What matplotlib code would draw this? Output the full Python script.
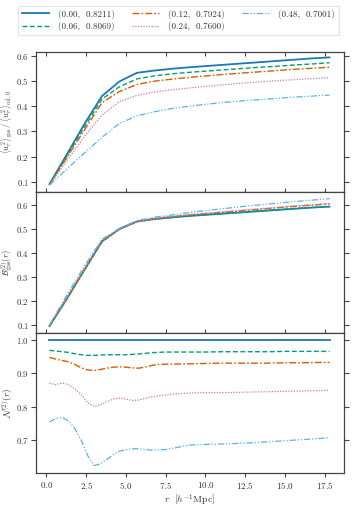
import numpy as np
import matplotlib
matplotlib.use("Agg")
import matplotlib.pyplot as plt

plt.rcParams['font.family'] = 'serif'
plt.rcParams['font.serif'] = ['cmr10']
plt.rcParams['mathtext.fontset'] = 'cm'
plt.rcParams['axes.formatter.use_mathtext'] = True
plt.rcParams['axes.unicode_minus'] = False

# ---------------- data ----------------
labels = ["(0.00,  0.8211)", "(0.06,  0.8069)", "(0.12,  0.7924)",
          "(0.24,  0.7600)", "(0.48,  0.7001)"]
colors = ["#1f78b4", "#029E73", "#D55E00", "#CC78BC", "#56B4E9"]

r_coarse = [0.2, 1.3, 2.4, 3.5, 4.6, 5.7, 6.8, 7.9, 9.0, 10.1, 11.2,
            12.3, 13.4, 14.5, 15.6, 16.7, 17.8]

# top panel: <u_r^2>_gas / <u_r^2>_col,0
ratio_000 = [0.092, 0.21, 0.33, 0.44, 0.498, 0.532, 0.541, 0.548, 0.554, 0.559,
             0.564, 0.569, 0.574, 0.579, 0.584, 0.589, 0.593]
ratio_006 = [0.090, 0.203, 0.318, 0.428, 0.477, 0.508, 0.520, 0.528, 0.534, 0.539,
             0.544, 0.549, 0.554, 0.558, 0.563, 0.567, 0.572]
ratio_012 = [0.089, 0.198, 0.306, 0.414, 0.458, 0.486, 0.499, 0.507, 0.514, 0.520,
             0.526, 0.531, 0.536, 0.541, 0.546, 0.550, 0.554]
ratio_024 = [0.088, 0.185, 0.280, 0.365, 0.418, 0.443, 0.456, 0.465, 0.472, 0.479,
             0.485, 0.491, 0.496, 0.501, 0.505, 0.509, 0.513]
ratio_048 = [0.088, 0.152, 0.215, 0.277, 0.332, 0.362, 0.378, 0.391, 0.400, 0.408,
             0.415, 0.421, 0.426, 0.431, 0.436, 0.440, 0.444]

# middle panel: B_gas^(2)(r)
B_000 = [0.095, 0.21, 0.33, 0.448, 0.500, 0.531, 0.541, 0.548, 0.554, 0.559,
         0.564, 0.569, 0.574, 0.579, 0.584, 0.589, 0.593]
B_006 = [0.094, 0.208, 0.328, 0.446, 0.499, 0.530, 0.541, 0.548, 0.555, 0.560,
         0.565, 0.570, 0.575, 0.580, 0.585, 0.589, 0.593]
B_012 = [0.095, 0.212, 0.332, 0.450, 0.500, 0.531, 0.543, 0.551, 0.558, 0.564,
         0.570, 0.576, 0.582, 0.588, 0.594, 0.599, 0.604]
B_024 = [0.097, 0.215, 0.335, 0.452, 0.500, 0.532, 0.544, 0.552, 0.560, 0.566,
         0.572, 0.578, 0.584, 0.590, 0.596, 0.601, 0.606]
B_048 = [0.100, 0.225, 0.345, 0.457, 0.502, 0.535, 0.549, 0.558, 0.568, 0.577,
         0.585, 0.593, 0.600, 0.607, 0.614, 0.620, 0.626]

# bottom panel: N^(2)(r)
r_fine = [0.2, 0.6, 1.0, 1.4, 1.8, 2.2, 2.6, 3.0, 3.4, 3.8, 4.2, 4.6, 5.0, 5.4,
          5.8, 6.2, 6.6, 7.0, 7.5, 8.0, 9.0, 10.0, 11.0, 12.0, 13.0, 14.0,
          15.0, 16.0, 17.0, 17.8]
N_000 = [1.0] * 30
N_006 = [0.968, 0.966, 0.964, 0.962, 0.958, 0.955, 0.953, 0.953, 0.954, 0.955,
         0.955, 0.955, 0.955, 0.956, 0.957, 0.959, 0.961, 0.962, 0.963, 0.963,
         0.963, 0.963, 0.964, 0.964, 0.964, 0.964, 0.965, 0.965, 0.965, 0.965]
N_012 = [0.947, 0.942, 0.938, 0.934, 0.926, 0.916, 0.910, 0.908, 0.911, 0.915,
         0.918, 0.919, 0.918, 0.916, 0.915, 0.918, 0.923, 0.926, 0.927, 0.927,
         0.928, 0.929, 0.930, 0.930, 0.930, 0.930, 0.931, 0.931, 0.932, 0.932]
N_024 = [0.870, 0.866, 0.871, 0.866, 0.853, 0.836, 0.812, 0.801, 0.806, 0.815,
         0.823, 0.826, 0.823, 0.819, 0.820, 0.825, 0.829, 0.832, 0.835, 0.838,
         0.841, 0.842, 0.842, 0.843, 0.844, 0.845, 0.846, 0.847, 0.848, 0.849]
N_048 = [0.755, 0.765, 0.768, 0.758, 0.735, 0.700, 0.655, 0.625, 0.630, 0.643,
         0.657, 0.668, 0.672, 0.675, 0.675, 0.673, 0.671, 0.671, 0.673, 0.677,
         0.686, 0.688, 0.689, 0.691, 0.693, 0.696, 0.699, 0.702, 0.705, 0.708]

ratios = [ratio_000, ratio_006, ratio_012, ratio_024, ratio_048]
Bs = [B_000, B_006, B_012, B_024, B_048]
Ns = [N_000, N_006, N_012, N_024, N_048]

styles = ['-', (0, (3.5, 1.8)), (0, (5, 1.5, 1.2, 1.5)), (0, (1, 1.2)),
          (0, (5, 1.5, 1, 1.5, 1, 1.5))]
widths = [1.3, 1.0, 1.0, 0.9, 0.9]

# ---------------- figure ----------------
fig = plt.figure(figsize=(3.52, 5.08), dpi=100)
gs = fig.add_gridspec(3, 1, left=0.102, right=0.977, top=0.898, bottom=0.069,
                      hspace=0.0)
ax1 = fig.add_subplot(gs[0])
ax2 = fig.add_subplot(gs[1], sharex=ax1)
ax3 = fig.add_subplot(gs[2], sharex=ax1)

handles = []
for i in range(5):
    h, = ax1.plot(r_coarse, ratios[i], color=colors[i], ls=styles[i], lw=widths[i],
                  label=labels[i])
    handles.append(h)
    ax2.plot(r_coarse, Bs[i], color=colors[i], ls=styles[i], lw=widths[i])
    ax3.plot(r_fine, Ns[i], color=colors[i], ls=styles[i], lw=widths[i])

ax1.set_xlim(-0.65, 18.7)
ax1.set_ylim(0.06, 0.615)
ax2.set_ylim(0.068, 0.653)
ax3.set_ylim(0.603, 1.021)

ax1.set_yticks([0.1, 0.2, 0.3, 0.4, 0.5, 0.6])
ax2.set_yticks([0.1, 0.2, 0.3, 0.4, 0.5, 0.6])
ax3.set_yticks([0.7, 0.8, 0.9, 1.0])
ax3.set_xticks([0.0, 2.5, 5.0, 7.5, 10.0, 12.5, 15.0, 17.5])

spine_col = '#444444'
lab_col = '#333333'
for ax in (ax1, ax2, ax3):
    for s in ax.spines.values():
        s.set_color(spine_col)
        s.set_linewidth(0.9)
    ax.tick_params(axis='y', which='both', direction='out', left=True, right=True,
                   length=3.5, width=0.8, color=spine_col, labelsize=6.3,
                   labelcolor=lab_col, pad=1.5)

ax1.tick_params(axis='x', direction='in', top=True, bottom=True, labelbottom=False,
                length=3, width=0.8, color=spine_col)
ax2.tick_params(axis='x', direction='in', top=False, bottom=True, labelbottom=False,
                length=3, width=0.8, color=spine_col)
ax3.tick_params(axis='x', direction='out', top=False, bottom=True, labelbottom=True,
                length=3, width=0.8, color=spine_col, labelsize=6.5,
                labelcolor=lab_col, pad=2)

ax1.set_ylabel(r"$\langle u_r^2\rangle_{\rm gas}\,/\,\langle u_r^2\rangle_{\rm col,0}$",
               fontsize=6.0, color=lab_col)
ax2.set_ylabel(r"$\mathcal{B}^{(2)}_{\rm gas}(r)$", fontsize=6.2, color=lab_col)
ax3.set_ylabel(r"$\mathcal{N}^{(2)}(r)$", fontsize=6.8, color=lab_col)
for ax in (ax1, ax2, ax3):
    ax.yaxis.set_label_coords(-0.068, 0.5)
ax3.set_xlabel(r"$r\ \ \left[h^{-1}{\rm Mpc}\right]$", fontsize=7, labelpad=1,
               color=lab_col)

leg = fig.legend(handles=handles, loc='upper center', bbox_to_anchor=(0.507, 0.998),
                 ncol=3, fontsize=6.5, frameon=True, fancybox=False,
                 handlelength=2.9, columnspacing=2.0, handletextpad=1.0,
                 borderpad=0.45, labelspacing=0.35)
leg.get_frame().set_edgecolor('#dddddd')
leg.get_frame().set_linewidth(0.8)
for t in leg.get_texts():
    t.set_color(lab_col)

fig.savefig("out.png", dpi=100)
